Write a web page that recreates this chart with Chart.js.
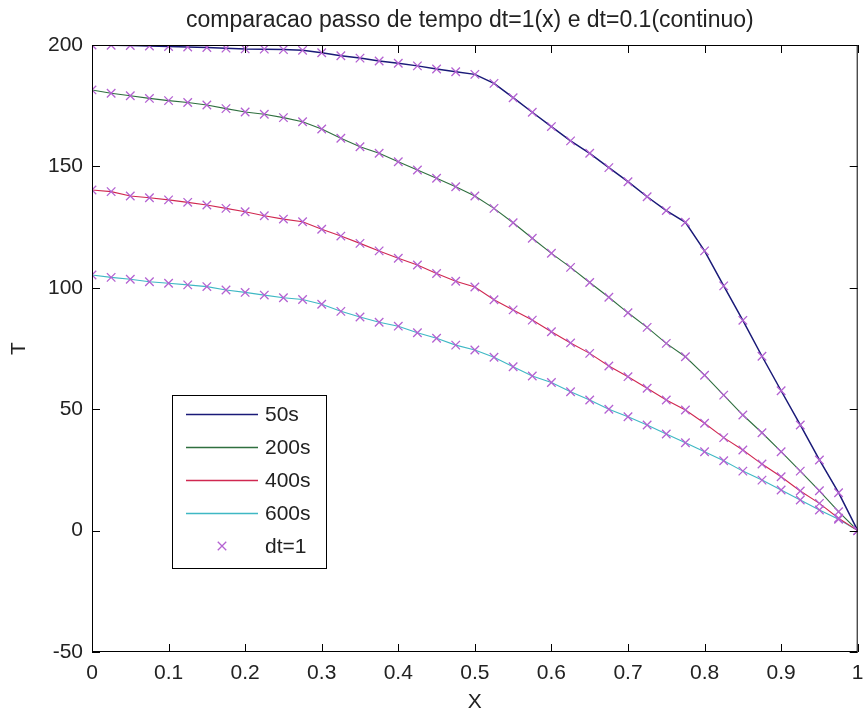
<!DOCTYPE html>
<html lang="en">
<head>
<meta charset="UTF-8">
<title>comparacao passo de tempo</title>
<script src="https://cdn.jsdelivr.net/npm/chart.js@4.4.1/dist/chart.umd.min.js"></script>
<style>
html, body { margin: 0; padding: 0; background: #fff; }
#wrap { width: 865px; height: 711px; }
</style>
</head>
<body>
<div id="wrap"><canvas id="myChart" width="865" height="711"></canvas></div>
<script>
// x positions of the dt=1 samples
var X = [0, 0.025, 0.05, 0.075, 0.1, 0.125, 0.15, 0.175, 0.2, 0.225, 0.25, 0.275, 0.3, 0.325, 0.35, 0.375, 0.4, 0.425, 0.45, 0.475, 0.5,
         0.525, 0.55, 0.575, 0.6, 0.625, 0.65, 0.675, 0.7, 0.725, 0.75, 0.775, 0.8, 0.825, 0.85, 0.875, 0.9, 0.925, 0.95, 0.975, 1];

// temperature profiles
var T50  = [200, 199.9, 199.8, 199.6, 199.4, 199.2, 199.0, 198.7, 198.4, 198.3, 198.1, 197.8, 196.8, 195.6, 194.6, 193.4, 192.5, 191.4, 190.1, 189.0, 187.9,
            184.2, 178.3, 172.3, 166.4, 160.5, 155.4, 149.5, 143.7, 137.5, 131.8, 127.0, 115.2, 100.8, 86.6, 71.8, 57.6, 43.5, 29.1, 15.6, 0];
var T200 = [181.5, 180.1, 179.1, 178.0, 177.1, 176.3, 175.3, 173.8, 172.4, 171.5, 170.1, 168.4, 165.4, 161.6, 158.1, 155.4, 151.9, 148.5, 145.1, 141.6, 137.8,
            132.7, 126.8, 120.4, 114.2, 108.4, 102.2, 96.1, 89.7, 83.7, 77.1, 71.6, 64.0, 55.8, 47.6, 40.3, 32.5, 24.5, 16.4, 7.8, 0];
var T400 = [140.3, 139.6, 137.8, 137.1, 136.2, 135.2, 134.1, 132.7, 131.3, 129.7, 128.3, 127.2, 124.1, 121.3, 118.3, 115.2, 112.2, 109.4, 105.9, 102.7, 100.3,
            95.1, 90.9, 86.7, 81.9, 77.3, 73.0, 67.8, 63.4, 58.6, 53.8, 49.7, 44.2, 38.3, 33.2, 27.4, 22.2, 16.3, 11.2, 5.1, 0];
var T600 = [105.3, 104.3, 103.5, 102.5, 101.9, 101.2, 100.5, 99.1, 98.1, 97.0, 95.9, 95.2, 93.2, 90.3, 88.0, 85.8, 84.2, 81.5, 79.2, 76.4, 74.4,
            71.4, 67.5, 63.7, 61.0, 57.2, 53.8, 50.0, 46.9, 43.5, 39.8, 36.2, 32.5, 28.8, 24.5, 20.8, 16.7, 12.6, 8.5, 4.7, 0];

var seriesNames = ['50s', '200s', '400s', '600s'];
var markerName = 'dt=1';
var titleText = 'comparacao passo de tempo dt=1(x) e dt=0.1(continuo)';

var seriesColors = ['#1a1a78', '#2f6f3f', '#d02850', '#3fb8c4'];
var markerColor = '#b462d2';
var FONT = '"Liberation Sans", Arial, sans-serif';

function toPoints(ys) {
  return X.map(function (x, i) { return { x: x, y: ys[i] }; });
}

var allSeries = [T50, T200, T400, T600];
var datasets = [];
allSeries.forEach(function (ys, i) {
  datasets.push({
    label: seriesNames[i],
    data: toPoints(ys),
    showLine: true,
    borderColor: seriesColors[i],
    borderWidth: i == 0 ? 1.5 : 1.1,
    pointRadius: 0,
    order: 1
  });
});
// dt=1 markers, all profiles in one set
var markerPts = [];
allSeries.forEach(function (ys) { markerPts = markerPts.concat(toPoints(ys)); });
datasets.push({
  label: markerName,
  data: markerPts,
  showLine: false,
  pointStyle: 'crossRot',
  pointRadius: 6,
  pointBorderWidth: 1.3,
  pointBorderColor: markerColor,
  borderColor: markerColor,
  order: 0
});

// box, inward ticks, title and legend in matlab style
var matlabPlugin = {
  id: 'matlab',
  afterDraw: function (chart) {
    var ctx = chart.ctx, a = chart.chartArea;
    var xs = chart.scales.x, ys = chart.scales.y;
    ctx.save();
    ctx.strokeStyle = '#000';
    ctx.lineWidth = 1;
    ctx.strokeRect(a.left + 0.5, a.top + 0.5, a.right - a.left - 1, a.bottom - a.top - 1);
    ctx.beginPath();
    xs.ticks.forEach(function (t) {
      var px = Math.round(xs.getPixelForValue(t.value)) + 0.5;
      ctx.moveTo(px, a.bottom); ctx.lineTo(px, a.bottom - 8);
      ctx.moveTo(px, a.top); ctx.lineTo(px, a.top + 8);
    });
    ys.ticks.forEach(function (t) {
      var py = Math.round(ys.getPixelForValue(t.value)) + 0.5;
      ctx.moveTo(a.left, py); ctx.lineTo(a.left + 8, py);
      ctx.moveTo(a.right, py); ctx.lineTo(a.right - 8, py);
    });
    ctx.stroke();

    // title
    ctx.fillStyle = '#222';
    ctx.font = '23px ' + FONT;
    ctx.textAlign = 'center';
    ctx.textBaseline = 'alphabetic';
    ctx.fillText(titleText, (a.left + a.right) / 2 - 5, 27);

    // legend
    var lx = a.left + 80, ly = a.top + 350, lw = 154, lh = 173;
    ctx.fillStyle = '#fff';
    ctx.fillRect(lx, ly, lw, lh);
    ctx.strokeStyle = '#000';
    ctx.strokeRect(lx + 0.5, ly + 0.5, lw, lh);
    ctx.font = '21px ' + FONT;
    ctx.textAlign = 'left';
    ctx.textBaseline = 'middle';
    chart.data.datasets.forEach(function (ds, i) {
      var cy = ly + 19 + i * 33;
      if (ds.showLine) {
        ctx.strokeStyle = ds.borderColor;
        ctx.lineWidth = 1.3;
        ctx.beginPath();
        ctx.moveTo(lx + 14, cy + 0.5); ctx.lineTo(lx + 86, cy + 0.5);
        ctx.stroke();
      } else {
        ctx.strokeStyle = ds.pointBorderColor;
        ctx.lineWidth = 1.3;
        Chart.helpers.drawPoint(ctx, { pointStyle: 'crossRot', radius: 6, borderWidth: 1.3 }, lx + 50, cy);
      }
      ctx.fillStyle = '#222';
      ctx.fillText(ds.label, lx + 93, cy + 1);
    });
    ctx.restore();
  }
};

var ctx = document.getElementById('myChart').getContext('2d');
var chart = new Chart(ctx, {
  type: 'scatter',
  data: { datasets: datasets },
  options: {
    responsive: false,
    animation: false,
    devicePixelRatio: 1,
    layout: { padding: { top: 45, right: 1, bottom: 0, left: 0 } },
    plugins: { legend: { display: false }, tooltip: { enabled: false }, title: { display: false } },
    scales: {
      x: {
        type: 'linear', min: 0, max: 1,
        grid: { display: false, drawTicks: false },
        border: { display: false },
        ticks: {
          stepSize: 0.1, padding: 9, color: '#222', maxRotation: 0,
          font: { family: FONT, size: 21 },
          callback: function (v) { return String(+v.toFixed(2)); }
        },
        title: { display: true, text: 'X', color: '#222', font: { family: FONT, size: 21, lineHeight: 1 }, padding: { top: 0, bottom: -2 } },
        afterFit: function (s) { s.height = 59; s.paddingLeft = 0; s.paddingRight = 0; }
      },
      y: {
        type: 'linear', min: -50, max: 200,
        grid: { display: false, drawTicks: false },
        border: { display: false },
        ticks: { stepSize: 50, padding: 9, color: '#222', font: { family: FONT, size: 21 } },
        title: { display: true, text: 'T', color: '#222', font: { family: FONT, size: 21, lineHeight: 1.2 }, padding: { top: 7, bottom: 0 } },
        afterFit: function (s) { s.width = 92; s.paddingTop = 0; s.paddingBottom = 0; }
      }
    }
  },
  plugins: [matlabPlugin]
});
</script>
</body>
</html>
